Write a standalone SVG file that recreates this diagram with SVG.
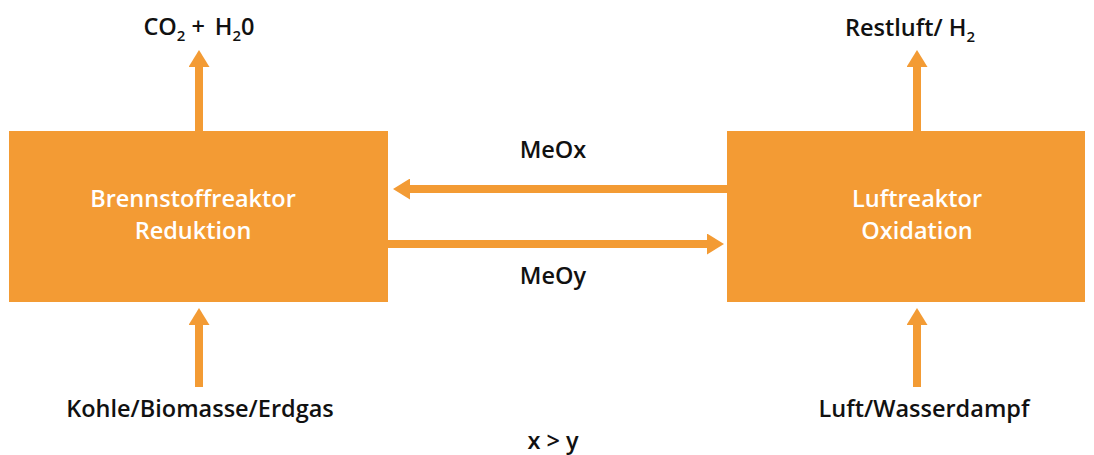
<svg xmlns="http://www.w3.org/2000/svg" width="1094" height="455" viewBox="0 0 1094 455">
<style>
.box{fill:#F39B34}
.lbl{font-family:"Open Sans","Liberation Sans",sans-serif;font-weight:600;font-size:23.5px;fill:#111;text-anchor:middle}
.in{fill:#fff}
.sub{font-size:15px}
.arr{stroke:#F39B34;stroke-width:8;fill:none}
</style>
<defs>
<marker id="ah" markerUnits="userSpaceOnUse" markerWidth="17" markerHeight="21" viewBox="0 0 17 21" refX="0" refY="10.5" orient="auto">
<path d="M0,0 L17,10.5 L0,21 z" fill="#F39B34"/>
</marker>
</defs>
<rect width="1094" height="455" fill="#fff"/>
<g id="connectors">
<line class="arr" x1="199" y1="131" x2="199" y2="67" marker-end="url(#ah)"/>
<line class="arr" x1="917" y1="131" x2="917" y2="67" marker-end="url(#ah)"/>
<line class="arr" x1="199" y1="387" x2="199" y2="325" marker-end="url(#ah)"/>
<line class="arr" x1="917" y1="387" x2="917" y2="325" marker-end="url(#ah)"/>
<line class="arr" x1="727" y1="189" x2="410" y2="189" marker-end="url(#ah)"/>
<line class="arr" x1="383" y1="244" x2="707" y2="244" marker-end="url(#ah)"/>
</g>
<g id="brennstoffreaktor">
<rect class="box" x="9" y="131" width="379" height="171"/>
<text class="lbl in" x="193" y="207">Brennstoffreaktor</text>
<text class="lbl in" x="193" y="239">Reduktion</text>
</g>
<g id="luftreaktor">
<rect class="box" x="727" y="131" width="358" height="171"/>
<text class="lbl in" x="917" y="207">Luftreaktor</text>
<text class="lbl in" x="917" y="239">Oxidation</text>
</g>
<g id="co2">
<text class="lbl" x="199" y="35">CO<tspan class="sub" dy="6">2</tspan><tspan dy="-6" dx="6">+</tspan><tspan dx="10">H</tspan><tspan class="sub" dy="6">2</tspan><tspan dy="-6">0</tspan></text>
</g>
<g id="restluft">
<text class="lbl" x="910" y="36">Restluft/ H<tspan class="sub" dy="6">2</tspan></text>
</g>
<g id="kohle">
<text class="lbl" x="200" y="417">Kohle/Biomasse/Erdgas</text>
</g>
<g id="luft">
<text class="lbl" x="924" y="417">Luft/Wasserdampf</text>
</g>
<g id="meox"><text class="lbl" x="553" y="158">MeOx</text></g>
<g id="meoy"><text class="lbl" x="553" y="284">MeOy</text></g>
<g id="xy"><text class="lbl" x="553" y="449">x &gt; y</text></g>
</svg>
